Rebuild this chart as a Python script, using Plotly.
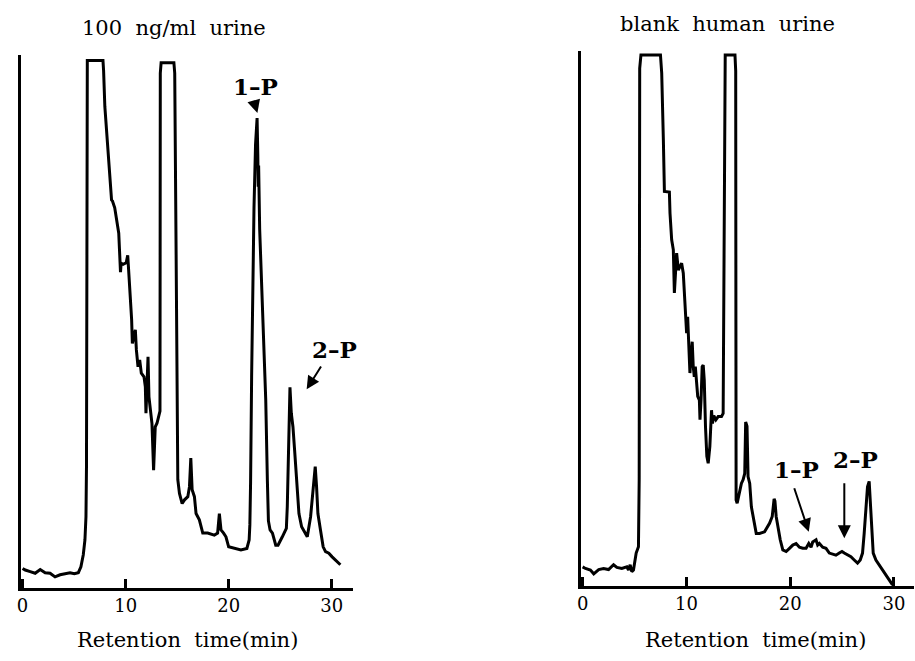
import plotly.graph_objects as go

# ---------------- data (retention time in min, detector response in arbitrary units) -------------
left_time = [0.00, 0.26, 0.74, 1.22, 1.71, 2.19, 2.67, 3.15, 3.64, 4.12, 4.60, 5.02, 5.41, 5.66, 5.89,
             6.05, 6.15, 6.20, 6.23, 6.28, 7.80, 7.86, 7.98, 8.30, 8.63, 8.72, 8.79, 8.94, 9.33, 9.45,
             9.50, 9.56, 9.75, 10.05, 10.20, 10.28, 10.50, 10.58, 10.65, 10.81, 10.94, 11.04, 11.20,
             11.36, 11.52, 11.78, 11.91, 11.97, 12.07, 12.17, 12.26, 12.39, 12.55, 12.71, 12.87, 13.04,
             13.23, 13.33, 13.36, 13.44, 14.68, 14.76, 14.93, 15.06, 15.22, 15.48, 15.71, 16.03, 16.19,
             16.32, 16.45, 16.67, 16.83, 17.15, 17.48, 17.96, 18.60, 18.92, 19.09, 19.25, 19.50, 19.73,
             19.99, 20.53, 21.18, 21.76, 21.98, 22.05, 22.12, 22.22, 22.30, 22.45, 22.60, 22.75, 22.82,
             22.86, 22.90, 23.00, 23.10, 23.27, 23.43, 23.59, 23.75, 23.85, 24.01, 24.24, 24.56, 24.78,
             25.20, 25.59, 25.68, 25.81, 25.94, 26.07, 26.23, 26.39, 26.59, 26.81, 27.07, 27.45, 27.62,
             27.94, 28.19, 28.39, 28.52, 28.65, 28.90, 29.16, 29.39, 29.71, 30.03, 30.51, 30.83]
left_signal = [3.7, 3.4, 3.1, 2.8, 3.5, 2.9, 2.8, 2.1, 2.5, 2.7, 2.9, 2.7, 2.9, 4.0, 6.3,
               9.1, 13.5, 23.0, 97.5, 99.9, 99.9, 98.0, 91.2, 81.7, 73.5, 73.3, 72.7, 72.0, 67.2, 63.5,
               59.8, 61.5, 61.3, 61.6, 63.0, 60.5, 54.5, 50.8, 46.3, 47.6, 48.9, 45.1, 41.9,
               43.2, 40.7, 40.0, 38.1, 33.1, 38.7, 43.8, 36.2, 34.3, 31.2, 22.3, 30.5, 31.2,
               32.4, 33.5, 97.5, 99.5, 99.5, 97.5, 54.5, 20.5, 17.9, 16.0, 16.7, 17.3, 19.2,
               24.6, 18.6, 17.3, 14.1, 12.9, 10.4, 10.4, 10.0, 10.4, 14.1, 11.0, 10.4, 9.7,
               7.8, 7.5, 7.2, 7.5, 9.1, 12.0, 20.0, 40.0, 54.5, 72.0, 84.0, 89.0, 82.0,
               76.0, 80.0, 68.0, 62.0, 54.5, 45.1, 35.6, 20.2, 12.7, 11.0, 10.4, 8.1, 8.1,
               9.7, 11.3, 15.4, 29.3, 38.0, 33.1, 30.5, 26.1, 19.2, 14.1, 11.6, 10.4, 9.7,
               13.5, 19.2, 23.0, 19.2, 14.1, 11.0, 7.8, 6.9, 6.6, 5.9, 5.0, 4.4]

right_time = [0.00, 0.27, 0.75, 1.07, 1.55, 2.02, 2.50, 2.98, 3.30, 3.78, 4.26, 4.42, 4.58, 4.74, 4.90,
              5.16, 5.38, 5.45, 5.50, 5.62, 7.50, 7.56, 7.62, 7.78, 7.88, 8.36, 8.42, 8.58, 8.74, 8.84,
              9.06, 9.22, 9.54, 9.70, 9.86, 9.89, 10.02, 10.12, 10.24, 10.34, 10.44, 10.56, 10.66, 10.76,
              10.86, 10.99, 11.09, 11.25, 11.31, 11.41, 11.52, 11.62, 11.72, 11.84, 11.97, 12.10, 12.26,
              12.42, 12.51, 12.64, 12.84, 13.06, 13.38, 13.54, 13.62, 13.66, 13.74, 14.68, 14.75, 14.77,
              14.79, 14.89, 15.02, 15.14, 15.30, 15.46, 15.62, 15.71, 15.84, 15.94, 16.10, 16.26, 16.48,
              16.73, 17.05, 17.53, 18.01, 18.27, 18.45, 18.53, 18.65, 18.81, 19.04, 19.29, 19.61, 19.93,
              20.25, 20.57, 20.89, 21.21, 21.53, 21.79, 22.01, 22.17, 22.49, 22.65, 22.81, 23.13, 23.45,
              23.77, 24.09, 24.41, 24.73, 24.99, 25.21, 25.53, 25.85, 26.17, 26.49, 26.75, 26.97, 27.13,
              27.29, 27.45, 27.61, 27.74, 27.84, 28.00, 28.26, 28.58, 28.90, 29.22, 29.54, 29.86]
right_signal = [3.6, 3.3, 3.0, 2.3, 3.1, 3.3, 3.1, 4.0, 3.5, 3.3, 3.6, 3.0, 4.0, 2.7, 3.0,
                6.2, 7.4, 20.0, 97.5, 100.0, 100.0, 98.0, 96.6, 84.0, 74.3, 74.2, 70.2, 65.2, 63.3, 55.2,
                62.7, 59.5, 60.8, 58.9, 52.0, 50.1, 47.6, 50.7, 45.7, 40.1, 43.2, 46.0, 41.3, 39.4,
                41.3, 36.9, 35.7, 35.0, 31.3, 35.0, 41.3, 41.6, 38.8, 30.0, 24.4, 23.1, 26.3,
                33.1, 30.6, 32.1, 31.3, 31.9, 31.9, 32.5, 60.0, 97.0, 100.0, 100.0, 97.0, 50.0,
                16.2, 15.6, 16.8, 18.1, 19.3, 20.0, 21.2, 30.9, 30.1, 20.6, 19.3, 14.9, 12.4,
                9.9, 9.9, 10.2, 11.8, 13.1, 16.4, 16.0, 13.1, 11.2, 8.7, 6.8, 6.5, 7.1,
                7.7, 8.0, 7.3, 7.1, 7.1, 8.0, 7.3, 8.3, 8.7, 7.7, 8.0, 7.3, 7.1,
                6.2, 6.0, 5.8, 6.2, 6.5, 6.2, 5.8, 5.5, 4.9, 4.3, 4.9, 6.2, 9.9,
                14.9, 18.7, 19.7, 14.9, 9.9, 6.2, 4.9, 4.0, 3.0, 2.1, 1.1, 0.2]

tick_values = [0, 10, 20, 30]
tick_labels = ["0", "10", "20", "30"]
panel_titles = ["100  ng/ml  urine", "blank  human  urine"]
axis_title = "Retention  time(min)"
peak_labels = ["1\u2013P", "2\u2013P"]

# ---------------- layout helpers (pixel -> paper) ----------------
W, H = 915, 661


def px(x):
    return x / W


def py(y):
    return 1 - y / H


SERIF = "DejaVu Serif"
BLACK = "#000000"

fig = go.Figure()
fig.add_trace(go.Scatter(x=left_time, y=left_signal, mode="lines",
                         line=dict(color=BLACK, width=3), xaxis="x", yaxis="y",
                         showlegend=False, hoverinfo="skip"))
fig.add_trace(go.Scatter(x=right_time, y=right_signal, mode="lines",
                         line=dict(color=BLACK, width=3), xaxis="x2", yaxis="y2",
                         showlegend=False, hoverinfo="skip"))

xcommon = dict(showline=True, linecolor=BLACK, linewidth=2.5, showgrid=False, zeroline=False,
               ticks="inside", ticklen=9, tickwidth=2.5, tickcolor=BLACK,
               tickvals=tick_values, ticktext=tick_labels,
               tickfont=dict(family=SERIF, size=18, color=BLACK), fixedrange=True)
ycommon = dict(showline=True, linecolor=BLACK, linewidth=2.5, showgrid=False, zeroline=False,
               ticks="", showticklabels=False, fixedrange=True)

fig.update_layout(
    width=W, height=H,
    margin=dict(l=0, r=0, t=0, b=0),
    paper_bgcolor="white", plot_bgcolor="white",
    xaxis=dict(domain=[px(17), px(351)], range=[-0.16, 32.1], anchor="y", **xcommon),
    yaxis=dict(domain=[py(588), py(55)], range=[0, 100.95], anchor="x", **ycommon),
    xaxis2=dict(domain=[px(579.7), px(914)], range=[-0.14, 31.93], anchor="y2", **xcommon),
    yaxis2=dict(domain=[py(586), py(51)], range=[0, 100.75], anchor="x2", **ycommon),
)

annotations = []
# panel titles
annotations.append(dict(text=panel_titles[0], x=px(171), y=py(28), xref="paper", yref="paper",
                        showarrow=False, xanchor="center", yanchor="middle",
                        font=dict(family=SERIF, size=21, color=BLACK)))
annotations.append(dict(text=panel_titles[1], x=px(726.5), y=py(24), xref="paper", yref="paper",
                        showarrow=False, xanchor="center", yanchor="middle",
                        font=dict(family=SERIF, size=21, color=BLACK)))
# axis titles
for cx in (184.5, 755):
    annotations.append(dict(text=axis_title, x=px(cx), y=py(640), xref="paper", yref="paper",
                            showarrow=False, xanchor="center", yanchor="middle",
                            font=dict(family=SERIF, size=21, color=BLACK)))

# peak labels (text)
label_pos = [(peak_labels[0], 253, 86.5), (peak_labels[1], 331.7, 350),
             (peak_labels[0], 796, 470), (peak_labels[1], 855, 459)]
for t, cx, cy in label_pos:
    annotations.append(dict(text="<b>%s</b>" % t, x=px(cx), y=py(cy), xref="paper", yref="paper",
                            showarrow=False, xanchor="center", yanchor="middle",
                            font=dict(family=SERIF, size=23, color=BLACK)))

# arrows (tail -> tip, pixels)
arrows = [((251, 101), (254.5, 113)), ((319.3, 365), (304, 389.3)),
          ((793.3, 486.7), (808.3, 531.7)), ((844, 481.7), (844, 538.3))]
for (tx, ty), (hx, hy) in arrows:
    annotations.append(dict(text="", x=px(hx), y=py(hy), xref="paper", yref="paper",
                            ax=tx - hx, ay=ty - hy, axref="pixel", ayref="pixel",
                            showarrow=True, arrowhead=2, arrowsize=1.3, arrowwidth=2,
                            arrowcolor=BLACK, standoff=0, startstandoff=0))

fig.update_layout(annotations=annotations)

fig.write_html("out.html")
